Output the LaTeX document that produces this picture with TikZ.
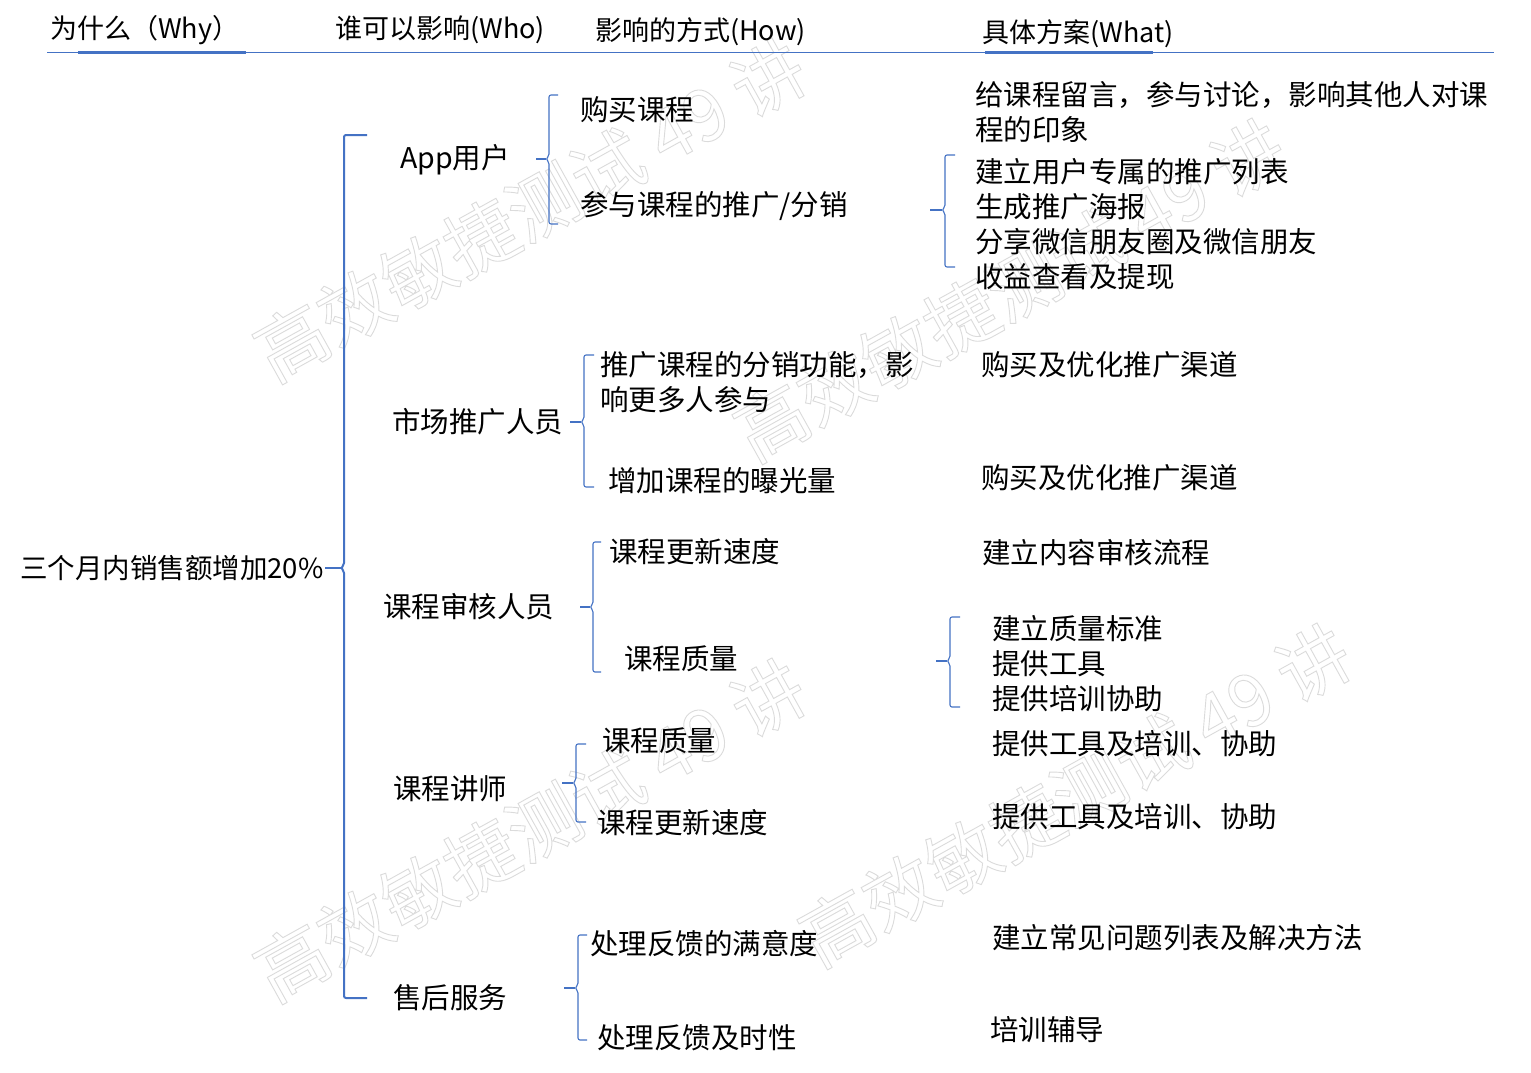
\documentclass[tikz,border=0pt]{standalone}
\usepackage{fontspec}
\setmainfont{Noto Sans CJK SC}
\definecolor{lineblue}{HTML}{4472C4}
\newcommand\mybrace[6]{% x, ytop, ybot, ytip, xleft, xright
  \draw[rounded corners=2pt] (#6,#2) -- (#1,#2) -- (#1,#4-3) -- (#1-3,#4) -- (#1,#4+3) -- (#1,#3) -- (#6,#3);
  \draw (#1-3,#4) -- (#5,#4);}
\begin{document}
\begin{tikzpicture}[x=1pt,y=-1pt,
  txt/.style={anchor=west,inner sep=0pt,align=left,font=\fontsize{28.5}{35}\selectfont},
  head/.style={anchor=west,inner sep=0pt,font=\fontsize{27}{30}\selectfont},
  wm/.style={rotate=29,inner sep=0pt,text=gray!28,font=\fontsize{72}{72}\selectfont},
  brk/.style={draw=lineblue,line width=1.1pt}]
\useasboundingbox[fill=white] (0,0) rectangle (1531,1072);

% watermarks
\node[wm] (wm1) at (530,210) {\special{pdf:literal direct 1 Tr 0.9 w}高效敏捷测试 49 讲\special{pdf:literal direct 0 Tr}};
\node[wm] (wm2) at (1010,290) {\special{pdf:literal direct 1 Tr 0.9 w}高效敏捷测试 49 讲\special{pdf:literal direct 0 Tr}};
\node[wm] (wm3) at (530,830) {\special{pdf:literal direct 1 Tr 0.9 w}高效敏捷测试 49 讲\special{pdf:literal direct 0 Tr}};
\node[wm] (wm4) at (1075,795) {\special{pdf:literal direct 1 Tr 0.9 w}高效敏捷测试 49 讲\special{pdf:literal direct 0 Tr}};

% header
\node[head] (h1) at (50,30) {为什么（Why）};
\node[head] (h2) at (335,30) {谁可以影响(Who)};
\node[head] (h3) at (595,32) {影响的方式(How)};
\node[head] (h4) at (982,34) {具体方案(What)};
\coordinate (hl) at (47,52);
\coordinate (hr) at (1494,52);
\draw[lineblue,line width=1pt] (hl) -- (hr);
\draw[lineblue,line width=2.4pt] (78,52.5) -- (246,52.5);
\draw[lineblue,line width=2.4pt] (985,52.5) -- (1153,52.5);

% level 1
\node[txt,font=\fontsize{27.5}{35}\selectfont] (root) at (20,568) {三个月内销售额增加20\%};
% level 2
\node[txt] (app) at (400,160) {App用户};
\node[txt] (mkt) at (392,422) {市场推广人员};
\node[txt] (rev) at (383,607) {课程审核人员};
\node[txt] (tch) at (393,789) {课程讲师};
\node[txt] (svc) at (393,998) {售后服务};
% level 3
\node[txt] (a1) at (580,110) {购买课程};
\node[txt] (a2) at (580,206) {参与课程的推广/分销};
\node[txt] (m1) at (600,382) {推广课程的分销功能，影\\响更多人参与};
\node[txt] (m2) at (608,481) {增加课程的曝光量};
\node[txt] (r1) at (609,552) {课程更新速度};
\node[txt] (r2) at (624,659) {课程质量};
\node[txt] (t1) at (602,741) {课程质量};
\node[txt] (t2) at (597,823) {课程更新速度};
\node[txt] (s1) at (590,944) {处理反馈的满意度};
\node[txt] (s2) at (597,1038) {处理反馈及时性};
% level 4
\node[txt] (w1) at (975,112) {给课程留言，参与讨论，影响其他人对课\\程的印象};
\node[txt] (w2) at (975,224) {建立用户专属的推广列表\\生成推广海报\\分享微信朋友圈及微信朋友\\收益查看及提现};
\node[txt] (w3) at (981,365) {购买及优化推广渠道};
\node[txt] (w4) at (981,478) {购买及优化推广渠道};
\node[txt] (w5) at (982,553) {建立内容审核流程};
\node[txt] (w6) at (992,664) {建立质量标准\\提供工具\\提供培训协助};
\node[txt] (w7) at (992,744) {提供工具及培训、协助};
\node[txt] (w8) at (992,817) {提供工具及培训、协助};
\node[txt] (w9) at (992,938) {建立常见问题列表及解决方法};
\node[txt] (w10) at (990,1030) {培训辅导};

% brackets
\begin{scope}[brk,line width=2pt]
\mybrace{344}{135}{998}{568}{325}{367}
\end{scope}
\begin{scope}[brk]
\mybrace{549}{95}{224}{159}{536}{558}
\mybrace{584}{355}{487}{422}{570}{594}
\mybrace{593}{542}{672}{607}{580}{601}
\mybrace{576}{744}{822}{783}{562}{586}
\mybrace{578}{935}{1040}{988}{564}{587}
\mybrace{945}{155}{267}{210}{930}{955}
\mybrace{950}{617}{707}{661}{936}{960}
\end{scope}
\end{tikzpicture}
\end{document}
